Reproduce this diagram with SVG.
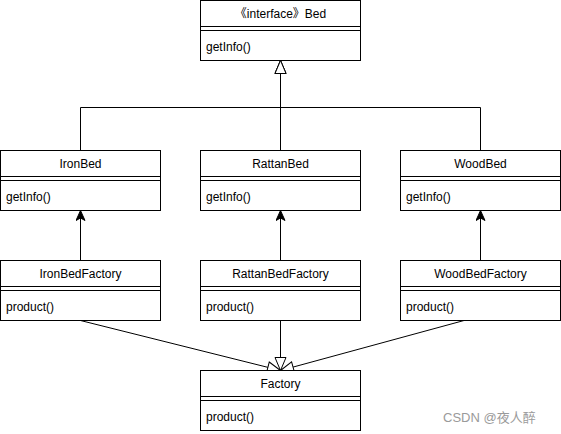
<svg xmlns="http://www.w3.org/2000/svg" width="561" height="434" viewBox="0 0 561 434">
<style>
.box{fill:#fff;stroke:#000;stroke-width:1}
.sep{stroke:#000;stroke-width:1;fill:none}
.t{font-family:"Liberation Sans","Noto Sans CJK SC",Arial,sans-serif;font-size:12px;fill:#000}
.c{text-anchor:middle}
.e{stroke:#000;stroke-width:1;fill:none}
.wm{font-family:"Liberation Sans","Noto Sans CJK SC",sans-serif;font-size:13px;fill:#9a9a9a}
</style>
<defs>
<marker id="tri" markerUnits="userSpaceOnUse" markerWidth="16" markerHeight="14" viewBox="-1 -1 16 14" refX="13" refY="5.5" orient="auto">
<path d="M0,0 L13,5.5 L0,11 Z" fill="#fff" stroke="#000" stroke-width="1"/>
</marker>
<marker id="arr" markerUnits="userSpaceOnUse" markerWidth="12" markerHeight="11" viewBox="0 0 12 11" refX="10" refY="4.5" orient="auto">
<path d="M0,0 L10,4.5 L0,9 L2.5,4.5 Z" fill="#000" stroke="#000" stroke-width="1"/>
</marker>
</defs>
<g id="connectors">
<path class="e" d="M80.5,150 V107.5 H280.5 V60.5" marker-end="url(#tri)"/>
<path class="e" d="M280.5,150 V60.5" marker-end="url(#tri)"/>
<path class="e" d="M480.5,150 V107.5 H280.5 V60.5" marker-end="url(#tri)"/>
<path class="e" d="M80.5,260 V210.5" marker-end="url(#arr)"/>
<path class="e" d="M280.5,260 V210.5" marker-end="url(#arr)"/>
<path class="e" d="M480.5,260 V210.5" marker-end="url(#arr)"/>
<path class="e" d="M80.5,320.5 L280.5,370.5" marker-end="url(#tri)"/>
<path class="e" d="M280.5,320.5 V370.5" marker-end="url(#tri)"/>
<path class="e" d="M464,320.5 L280.5,370.5" marker-end="url(#tri)"/>
</g>
<g id="Bed">
<rect class="box" x="200.5" y="0.5" width="160" height="60"/>
<path class="sep" d="M200.5,26.5 H360.5 M200.5,30.5 H360.5"/>
<text class="t c" x="280.5" y="18">《interface》Bed</text>
<text class="t" x="206" y="51">getInfo()</text>
</g>
<g id="IronBed">
<rect class="box" x="0.5" y="150.5" width="160" height="60"/>
<path class="sep" d="M0.5,176.5 H160.5 M0.5,180.5 H160.5"/>
<text class="t c" x="80.5" y="168">IronBed</text>
<text class="t" x="6" y="201">getInfo()</text>
</g>
<g id="RattanBed">
<rect class="box" x="200.5" y="150.5" width="160" height="60"/>
<path class="sep" d="M200.5,176.5 H360.5 M200.5,180.5 H360.5"/>
<text class="t c" x="280.5" y="168">RattanBed</text>
<text class="t" x="206" y="201">getInfo()</text>
</g>
<g id="WoodBed">
<rect class="box" x="400.5" y="150.5" width="160" height="60"/>
<path class="sep" d="M400.5,176.5 H560.5 M400.5,180.5 H560.5"/>
<text class="t c" x="480.5" y="168">WoodBed</text>
<text class="t" x="406" y="201">getInfo()</text>
</g>
<g id="IronBedFactory">
<rect class="box" x="0.5" y="260.5" width="160" height="60"/>
<path class="sep" d="M0.5,286.5 H160.5 M0.5,290.5 H160.5"/>
<text class="t c" x="80.5" y="278">IronBedFactory</text>
<text class="t" x="6" y="311">product()</text>
</g>
<g id="RattanBedFactory">
<rect class="box" x="200.5" y="260.5" width="160" height="60"/>
<path class="sep" d="M200.5,286.5 H360.5 M200.5,290.5 H360.5"/>
<text class="t c" x="280.5" y="278">RattanBedFactory</text>
<text class="t" x="206" y="311">product()</text>
</g>
<g id="WoodBedFactory">
<rect class="box" x="400.5" y="260.5" width="160" height="60"/>
<path class="sep" d="M400.5,286.5 H560.5 M400.5,290.5 H560.5"/>
<text class="t c" x="480.5" y="278">WoodBedFactory</text>
<text class="t" x="406" y="311">product()</text>
</g>
<g id="Factory">
<rect class="box" x="200.5" y="370.5" width="160" height="60"/>
<path class="sep" d="M200.5,396.5 H360.5 M200.5,400.5 H360.5"/>
<text class="t c" x="280.5" y="388">Factory</text>
<text class="t" x="206" y="421">product()</text>
</g>
<text class="wm" x="443" y="422">CSDN @夜人醉</text>
</svg>
